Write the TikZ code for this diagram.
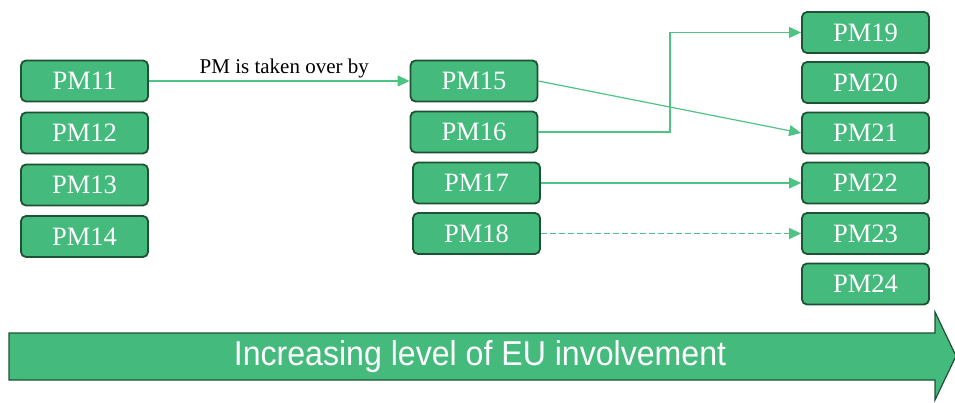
\documentclass[tikz,border=0pt]{standalone}
\usepackage{fontspec}
\setmainfont{Liberation Serif}
\newfontfamily\arialf{Liberation Sans}
\usetikzlibrary{arrows.meta}
\definecolor{boxfill}{RGB}{69,186,125}
\definecolor{boxdraw}{RGB}{30,82,52}
\definecolor{linkc}{RGB}{78,196,132}
\tikzset{
  pmbox/.style={draw=boxdraw, fill=boxfill, line width=1.8pt, rounded corners=5pt,
    minimum width=127pt, minimum height=41pt, inner sep=0pt,
    text=white, font=\fontsize{26.5}{28}\selectfont},
  link/.style={draw=linkc, line width=1.2pt, -{Triangle[length=12pt,width=11pt]}},
  bigarrow/.style={draw=boxdraw, fill=boxfill, line width=1.2pt, line join=miter},
}
\begin{document}
\begin{tikzpicture}[x=1pt,y=-1pt]
\useasboundingbox (0,0) rectangle (955,403);
% left column
\node[pmbox] (PM11) at (84.5,81) {PM11};
\node[pmbox] (PM12) at (84.5,133) {PM12};
\node[pmbox] (PM13) at (84.5,185) {PM13};
\node[pmbox] (PM14) at (84.5,236.5) {PM14};
% middle column
\node[pmbox] (PM15) at (474,81) {PM15};
\node[pmbox] (PM16) at (474,132) {PM16};
\node[pmbox] (PM17) at (476.5,183) {PM17};
\node[pmbox] (PM18) at (476.5,233.5) {PM18};
% right column
\node[pmbox] (PM19) at (865.5,32.5) {PM19};
\node[pmbox] (PM20) at (865.5,82.5) {PM20};
\node[pmbox] (PM21) at (865.5,133) {PM21};
\node[pmbox] (PM22) at (865.5,183) {PM22};
\node[pmbox] (PM23) at (865.5,233.5) {PM23};
\node[pmbox] (PM24) at (865.5,284) {PM24};
% connectors
\draw[link] (PM11.east) -- node[above=-1pt, xshift=5pt, text=black, font=\fontsize{21}{23}\selectfont] {PM is taken over by} (PM15.west);
\draw[link] (PM15.east) -- (PM21.west);
\coordinate (bend) at (670,0);
\draw[link] (PM16.east) -| (bend |- PM19.west) -- (PM19.west);
\draw[link] (PM17.east) -- (PM22.west);
\draw[link, dash pattern=on 6pt off 3pt] (PM18.east) -- (PM23.west);
% big arrow
\draw[bigarrow] (9,333) -- (935,333) -- (935,312) -- (956,356) -- (935,400) -- (935,380) -- (9,380) -- cycle;
\node[text=white, font=\arialf\fontsize{34.5}{36}\selectfont] (axis) at (480,357) {\scalebox{0.93}[1]{Increasing level of EU involvement}};
\end{tikzpicture}
\end{document}
